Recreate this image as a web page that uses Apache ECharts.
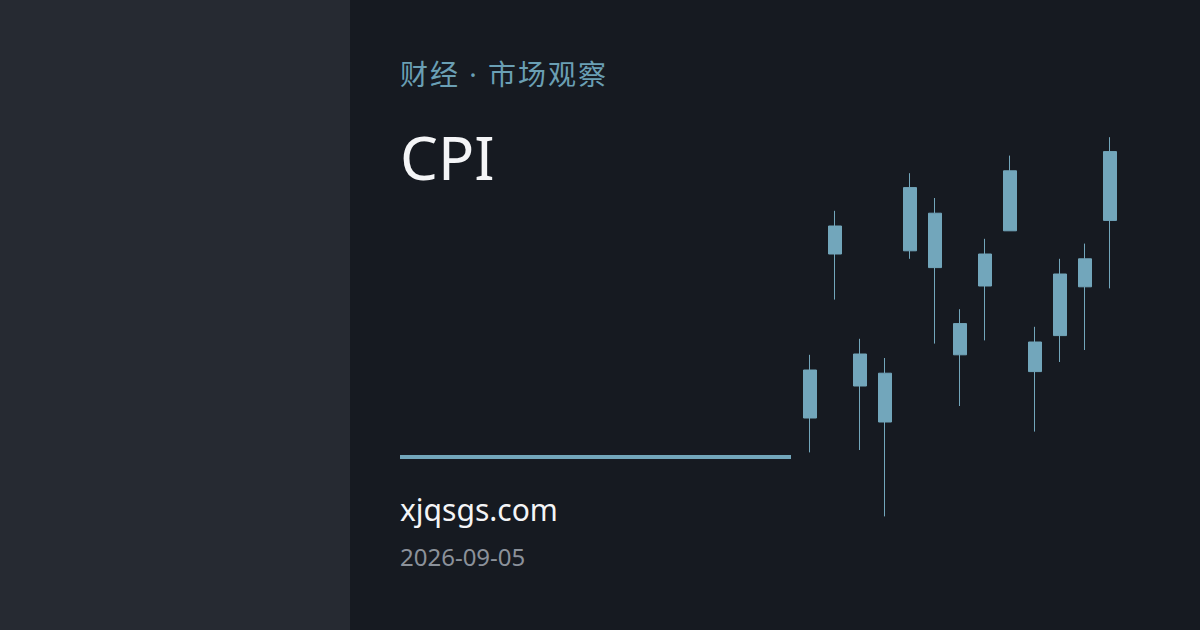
<!DOCTYPE html>
<html>
<head>
<meta charset="utf-8">
<title>CPI</title>
<script src="https://cdn.jsdelivr.net/npm/echarts@6/dist/echarts.min.js"></script>
<style>
  html, body { margin: 0; padding: 0; background: #161a21; }
  #main { width: 1200px; height: 630px; }
</style>
</head>
<body>
<div id="main"></div>
<script>
// K线数据 (open, close, low, high)
var days   = ['08-24','08-25','08-26','08-27','08-28','08-29','08-30','08-31','09-01','09-02','09-03','09-04','09-05'];
var opens  = [101.40, 103.45, 101.80, 101.35, 103.49, 103.28, 102.19, 103.05, 103.74, 101.98, 102.43, 103.04, 103.87];
var closes = [102.00, 103.80, 102.20, 101.96, 104.28, 103.96, 102.58, 103.45, 104.49, 102.35, 103.20, 103.39, 104.73];
var lows   = [100.97, 102.88, 101.00, 100.17, 103.39, 102.33, 101.55, 102.37, 103.74, 101.23, 102.10, 102.25, 103.02];
var highs  = [102.19, 103.99, 102.39, 102.15, 104.46, 104.15, 102.76, 103.64, 104.68, 102.54, 103.39, 103.58, 104.91];

var kdata = [];
for (var i = 0; i < days.length; i++) {
    kdata.push([opens[i], closes[i], lows[i], highs[i]]);
}

var accent = '#72a6bb';

// 带字距的文字: 逐字排开
function spacedText(str, x, y, font, fill, spacing) {
    var ctx = document.createElement('canvas').getContext('2d');
    ctx.font = font;
    var children = [];
    var cx = x;
    for (var k = 0; k < str.length; k++) {
        var ch = str.charAt(k);
        children.push({type: 'text', x: cx, y: y, style: {
            text: ch, font: font, fill: fill, verticalAlign: 'middle'
        }});
        cx += ctx.measureText(ch).width + spacing;
    }
    return {type: 'group', children: children};
}

var chart = echarts.init(document.getElementById('main'), null, {renderer: 'svg'});
var option = {
    backgroundColor: '#161a21',
    animation: false,
    grid: {left: 797.5, right: 77.5, top: 130, height: 400},
    xAxis: {
        type: 'category',
        data: days,
        show: false
    },
    yAxis: {
        type: 'value',
        min: 100,
        max: 105,
        show: false
    },
    graphic: [
        {type: 'rect', left: 0, top: 0, z: -10, shape: {width: 350, height: 630}, style: {fill: '#262a32'}},
        spacedText('财经 · 市场观察', 400, 74, '28px "Noto Sans", "Noto Sans CJK SC", sans-serif', '#6a9fb4', 2),
        {type: 'text', x: 400, y: 157, style: {
            text: 'CPI', fill: '#f4f5f7',
            font: '60px "Noto Sans", sans-serif',
            verticalAlign: 'middle'
        }},
        {type: 'rect', shape: {x: 400, y: 455, width: 391, height: 4}, style: {fill: accent}},
        {type: 'text', x: 400, y: 509, style: {
            text: 'xjqsgs.com', fill: '#f4f5f7',
            font: '30px "Noto Sans", sans-serif',
            verticalAlign: 'middle'
        }},
        {type: 'text', x: 400, y: 556, style: {
            text: '2026-09-05', fill: '#8b919a',
            font: '24px "Noto Sans", sans-serif',
            verticalAlign: 'middle'
        }}
    ],
    series: [{
        type: 'candlestick',
        data: kdata,
        barWidth: 14,
        itemStyle: {
            color: accent,
            color0: accent,
            borderColor: accent,
            borderColor0: accent,
            borderWidth: 1
        }
    }]
};
chart.setOption(option);
</script>
</body>
</html>
